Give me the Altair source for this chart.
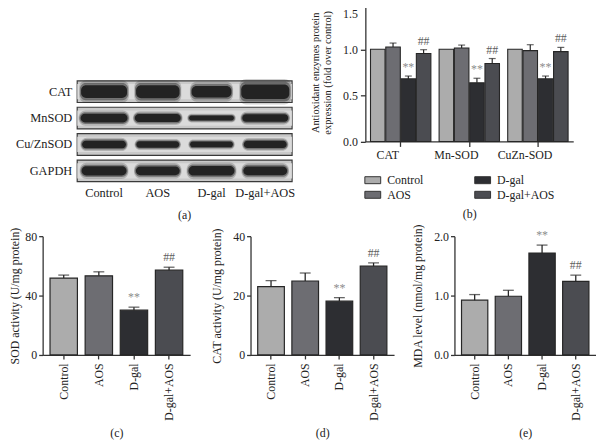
import altair as alt
import pandas as pd

FONT = "Liberation Serif"

# ---------------- data ----------------
groups = ["Control", "AOS", "D-gal", "D-gal+AOS"]
group_colors = ["#acacac", "#6d6d72", "#2d2e32", "#4b4c51"]
sig_marks = ["", "", "**", "##"]

# (a) western blot: relative band intensity and band spread per lane
proteins = ["CAT", "MnSOD", "Cu/ZnSOD", "GAPDH"]
band_intensity = {
    "CAT": [0.80, 0.82, 0.72, 0.92],
    "MnSOD": [0.55, 0.50, 0.32, 0.48],
    "Cu/ZnSOD": [0.48, 0.40, 0.36, 0.46],
    "GAPDH": [0.58, 0.56, 0.60, 0.56],
}
band_spread = {
    "CAT": [0.90, 0.85, 0.78, 0.94],
    "MnSOD": [0.92, 0.90, 0.88, 0.90],
    "Cu/ZnSOD": [0.86, 0.84, 0.84, 0.84],
    "GAPDH": [0.88, 0.86, 0.90, 0.86],
}

# (b) protein expression (fold over control)
enzymes = ["CAT", "Mn-SOD", "CuZn-SOD"]
expr_mean = {
    "Control": [1.0, 1.0, 1.0],
    "AOS": [1.025, 1.014, 0.986],
    "D-gal": [0.679, 0.636, 0.679],
    "D-gal+AOS": [0.954, 0.846, 0.975],
}
expr_err = {
    "Control": [0.0, 0.0, 0.0],
    "AOS": [0.043, 0.032, 0.064],
    "D-gal": [0.031, 0.050, 0.031],
    "D-gal+AOS": [0.042, 0.054, 0.046],
}

# (c) SOD activity
sod_mean = [51.8, 53.3, 30.2, 57.1]
sod_err = [2.0, 2.7, 2.0, 2.0]
# (d) CAT activity
cat_mean = [23.0, 24.9, 18.1, 29.9]
cat_err = [2.0, 2.7, 1.2, 1.1]
# (e) MDA level
mda_mean = [0.922, 0.989, 1.717, 1.239]
mda_err = [0.095, 0.100, 0.133, 0.105]

AXIS_COLOR = "#333333"
BAR_STROKE = "#262626"
STAR_COLOR = "#8c8c8c"
HASH_COLOR = "#5e5e5e"

# ---------------- panel (a) ----------------
n_lanes = len(groups)
xa = alt.Scale(domain=[-1.143, n_lanes - 0.5], nice=False, zero=False)
ya = alt.Scale(domain=[-3.35, 3.476], nice=False, zero=False, reverse=True)

strip_df = pd.DataFrame({
    "protein": proteins,
    "row": list(range(len(proteins))),
})
strip_df["x0"] = -0.5
strip_df["x1"] = n_lanes - 0.5
strip_df["y0"] = strip_df["row"] - 0.41
strip_df["y1"] = strip_df["row"] + 0.41
strip_df["yi0"] = strip_df["row"] - 0.29
strip_df["yi1"] = strip_df["row"] + 0.29

strips = alt.Chart(strip_df).mark_rect(fill="#c9c9c9", stroke="#3a3a3a", strokeWidth=1.2).encode(
    x=alt.X("x0:Q", scale=xa, axis=None), x2="x1",
    y=alt.Y("y0:Q", scale=ya, axis=None), y2="y1",
)
strips_inner = alt.Chart(strip_df).mark_rect(fill="#dedede", opacity=0.85).encode(
    x=alt.X("x0:Q", scale=xa, axis=None), x2="x1",
    y=alt.Y("yi0:Q", scale=ya, axis=None), y2="yi1",
)

rows = []
for pi, p in enumerate(proteins):
    for li in range(n_lanes):
        rows.append({"protein": p, "row": pi, "lane": li,
                     "inten": band_intensity[p][li], "spread": band_spread[p][li]})
blot_df = pd.DataFrame(rows)


def band_layer(kh, kw, opacity, radius):
    return alt.Chart(blot_df).transform_calculate(
        bx0=f"datum.lane - datum.spread * {kw} / 2",
        bx1=f"datum.lane + datum.spread * {kw} / 2",
        by0=f"datum.row - datum.inten * 0.6 * {kh} / 2",
        by1=f"datum.row + datum.inten * 0.6 * {kh} / 2",
    ).mark_rect(fill="#151515", opacity=opacity, cornerRadius=radius).encode(
        x=alt.X("bx0:Q", scale=xa, axis=None), x2="bx1:Q",
        y=alt.Y("by0:Q", scale=ya, axis=None), y2="by1:Q",
    )


bands = [band_layer(1.75, 1.03, 0.2, 7), band_layer(1.35, 1.0, 0.4, 6), band_layer(1.0, 0.95, 0.85, 5)]

prot_labels = alt.Chart(strip_df).mark_text(
    align="right", baseline="middle", dx=-5, font=FONT, fontSize=12.5, fill="#222"
).encode(
    x=alt.X("x0:Q", scale=xa, axis=None),
    y=alt.Y("row:Q", scale=ya, axis=None),
    text="protein:N",
)

# lane names below the blot (one row under the last strip) and the panel tag
lane_df = pd.DataFrame({"lane": list(range(n_lanes)), "name": groups})
lane_df["row"] = len(proteins) - 0.16
lane_labels = alt.Chart(lane_df).mark_text(
    baseline="middle", font=FONT, fontSize=12.5, fill="#222"
).encode(
    x=alt.X("lane:Q", scale=xa, axis=None),
    y=alt.Y("row:Q", scale=ya, axis=None),
    text="name:N",
)
tag_df = pd.DataFrame({"lane": [(n_lanes - 1) / 2], "row": [len(proteins) + 0.66], "tag": ["(a)"]})
tag_a = alt.Chart(tag_df).mark_text(baseline="middle", font=FONT, fontSize=12, fill="#222").encode(
    x=alt.X("lane:Q", scale=xa, axis=None),
    y=alt.Y("row:Q", scale=ya, axis=None),
    text="tag:N",
)

panel_a = alt.layer(strips, strips_inner, *bands, prot_labels, lane_labels, tag_a).properties(
    width=252, height=182)

# ---------------- panel (b) ----------------
brows = []
for g_i, g in enumerate(groups):
    for e_i, e in enumerate(enzymes):
        m = expr_mean[g][e_i]
        er = expr_err[g][e_i]
        brows.append({"enzyme": e, "group": g, "mean": m, "err": er, "top": m + er,
                      "sig": sig_marks[g_i]})
b_df = pd.DataFrame(brows)

bx = alt.X("enzyme:N", sort=enzymes,
           scale=alt.Scale(paddingInner=0.12, paddingOuter=0.075),
           axis=alt.Axis(title="(b)", titlePadding=49, labelAngle=0, labelOffset=-13,
                         labelPadding=3, tickSize=5))
bxo = alt.XOffset("group:N", sort=groups, scale=alt.Scale(paddingInner=0.05, paddingOuter=0))
by_scale = alt.Scale(domain=[0, 1.5], nice=False)

rect_path = "M-1,-0.44L1,-0.44L1,0.44L-1,0.44Z"

b_bars = alt.Chart(b_df).mark_bar(stroke=BAR_STROKE, strokeWidth=1.1).encode(
    x=bx, xOffset=bxo,
    y=alt.Y("mean:Q", scale=by_scale, axis=alt.Axis(
        values=[0, 0.5, 1.0, 1.5], format=".1f", tickSize=5, labelPadding=3,
        labelBaseline={"condition": {"test": "datum.value >= 1.5", "value": "top"},
                       "value": "middle"},
        labelOffset={"condition": {"test": "datum.value >= 1.5", "value": 5},
                     "value": 0},
        title=["Antioxidant enzymes protein", "expression (fold over control)"],
        titleFontSize=10.5, titleLineHeight=12, titlePadding=10)),
    color=alt.Color("group:N", scale=alt.Scale(domain=groups, range=group_colors),
                    legend=alt.Legend(orient="none", legendX=-1, legendY=170, columns=2,
                                      columnPadding=49, rowPadding=0, title=None,
                                      symbolType=rect_path, symbolSize=256,
                                      symbolStrokeColor="#333", symbolStrokeWidth=1,
                                      labelFont=FONT, labelFontSize=12, labelOffset=6,
                                      labelColor="#222")),
)
b_err_df = b_df[b_df["err"] > 0]
b_rule = alt.Chart(b_err_df).mark_rule(color=BAR_STROKE, strokeWidth=1.2).encode(
    x=bx, xOffset=bxo, y=alt.Y("mean:Q", scale=by_scale), y2="top:Q")
b_cap = alt.Chart(b_err_df).mark_tick(color=BAR_STROKE, thickness=1.2, size=7).encode(
    x=bx, xOffset=bxo, y=alt.Y("top:Q", scale=by_scale))
b_star = alt.Chart(b_df[b_df["sig"] == "**"]).mark_text(
    baseline="bottom", dy=-2, font=FONT, fontSize=12, fill=STAR_COLOR).encode(
    x=bx, xOffset=bxo, y=alt.Y("top:Q", scale=by_scale), text="sig:N")
b_hash = alt.Chart(b_df[b_df["sig"] == "##"]).mark_text(
    baseline="bottom", dy=-2, font=FONT, fontSize=12, fill=HASH_COLOR).encode(
    x=bx, xOffset=bxo, y=alt.Y("top:Q", scale=by_scale), text="sig:N")

panel_b = alt.layer(b_bars, b_rule, b_cap, b_star, b_hash).properties(width=210, height=139.6)


# ---------------- panels (c), (d), (e) ----------------
def small_panel(means, errs, ymax, ystep, fmt, ytitle, label, width, tpad):
    df = pd.DataFrame({"group": groups, "mean": means, "err": errs,
                       "top": [m + e for m, e in zip(means, errs)], "sig": sig_marks,
                       "fillc": group_colors})
    x = alt.X("group:N", sort=groups,
              scale=alt.Scale(paddingInner=0.22, paddingOuter=0.21),
              axis=alt.Axis(title=label, labelAngle=270, labelAlign="right",
                            labelBaseline="middle", tickSize=4, labelPadding=4,
                            titlePadding=7))
    ys = alt.Scale(domain=[0, ymax], nice=False)
    ticks = []
    v = 0.0
    while v <= ymax + 1e-9:
        ticks.append(round(v, 6))
        v += ystep
    bars = alt.Chart(df).mark_bar(stroke=BAR_STROKE, strokeWidth=1.2).encode(
        x=x,
        y=alt.Y("mean:Q", scale=ys, axis=alt.Axis(values=ticks, format=fmt, tickSize=4,
                                                  labelPadding=2, title=ytitle,
                                                  titlePadding=tpad)),
        fill=alt.Fill("fillc:N", scale=None),
    )
    rule = alt.Chart(df).mark_rule(color=BAR_STROKE, strokeWidth=1.3).encode(
        x=x, y=alt.Y("mean:Q", scale=ys), y2="top:Q")
    cap = alt.Chart(df).mark_tick(color=BAR_STROKE, thickness=1.3, size=11).encode(
        x=x, y=alt.Y("top:Q", scale=ys))
    star = alt.Chart(df[df["sig"] == "**"]).mark_text(
        baseline="bottom", dy=-3, font=FONT, fontSize=12, fill=STAR_COLOR).encode(
        x=x, y=alt.Y("top:Q", scale=ys), text="sig:N")
    hsh = alt.Chart(df[df["sig"] == "##"]).mark_text(
        baseline="bottom", dy=-3, font=FONT, fontSize=12, fill=HASH_COLOR).encode(
        x=x, y=alt.Y("top:Q", scale=ys), text="sig:N")
    return alt.layer(bars, rule, cap, star, hsh).properties(width=width, height=120)


panel_c = small_panel(sod_mean, sod_err, 80, 20, "d", "SOD activity (U/mg protein)", "(c)", 149, 3)
panel_d = small_panel(cat_mean, cat_err, 40, 10, "d", "CAT activity (U/mg protein)", "(d)", 145, 9)
panel_e = small_panel(mda_mean, mda_err, 2.0, 0.5, ".1f", "MDA level (nmol/mg protein)", "(e)", 143, 9)

row1 = alt.hconcat(panel_a, panel_b, spacing=74, bounds="flush").resolve_scale(
    color="independent").resolve_legend(color="independent")
row2 = alt.hconcat(panel_c, panel_d, panel_e, spacing=61, bounds="flush")

chart = alt.vconcat(row1, row2, spacing=235.3, bounds="flush").resolve_scale(
    color="independent").resolve_legend(color="independent").properties(
    padding={"left": 0, "top": -8, "right": 0, "bottom": 0}
).configure_view(stroke=None).configure_axis(
    domainColor=AXIS_COLOR, tickColor=AXIS_COLOR, domainWidth=1.3, tickWidth=1.3,
    labelFont=FONT, labelFontSize=12, labelColor="#222", titleFont=FONT,
    titleFontSize=12, titleFontWeight="normal", titleColor="#222", grid=False,
).configure_text(font=FONT)

chart.save("out.html", embed_options={"renderer": "svg", "actions": False})
